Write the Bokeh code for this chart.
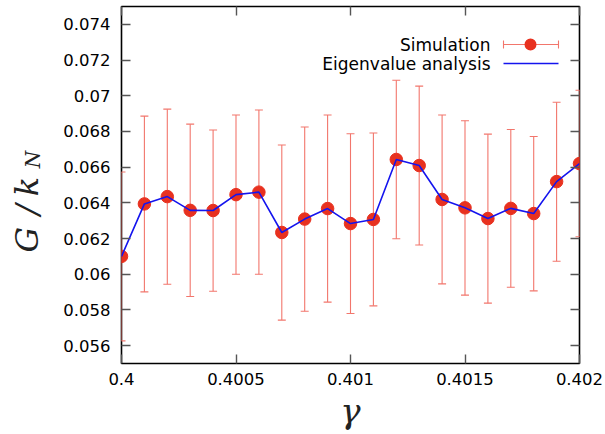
from bokeh.plotting import figure
from bokeh.layouts import row
from bokeh.models import (ColumnDataSource, FixedTicker, LinearAxis, Label, Arrow,
                          TeeHead, BoxAnnotation, Range1d)
from bokeh.embed import file_html
from bokeh.resources import INLINE

# ---------------- data ----------------
gamma = [0.4000, 0.4001, 0.4002, 0.4003, 0.4004, 0.4005, 0.4006, 0.4007, 0.4008, 0.4009,
         0.4010, 0.4011, 0.4012, 0.4013, 0.4014, 0.4015, 0.4016, 0.4017, 0.4018, 0.4019, 0.4020]
sim_mean = [0.06100, 0.06394, 0.06435, 0.06358, 0.06357, 0.06446, 0.06460, 0.06234, 0.06309, 0.06368,
            0.06284, 0.06307, 0.06643, 0.06609, 0.06419, 0.06372, 0.06312, 0.06369, 0.06340, 0.06519, 0.06620]
sim_upper = [0.06573, 0.06886, 0.06925, 0.06841, 0.06808, 0.06892, 0.06920, 0.06724, 0.06825, 0.06892,
             0.06787, 0.06791, 0.07087, 0.07054, 0.06892, 0.06860, 0.06785, 0.06811, 0.06772, 0.06964, 0.07031]
sim_lower = [0.05627, 0.05901, 0.05944, 0.05875, 0.05905, 0.06000, 0.06000, 0.05743, 0.05793, 0.05844,
             0.05780, 0.05823, 0.06199, 0.06164, 0.05946, 0.05883, 0.05838, 0.05927, 0.05907, 0.06073, 0.06210]
eig_value = [0.06100, 0.06394, 0.06435, 0.06358, 0.06357, 0.06446, 0.06460, 0.06234, 0.06309, 0.06368,
             0.06284, 0.06307, 0.06643, 0.06609, 0.06419, 0.06372, 0.06312, 0.06369, 0.06340, 0.06519, 0.06620]

xtick_values = [0.4, 0.4005, 0.401, 0.4015, 0.402]
xtick_labels = ["0.4", "0.4005", "0.401", "0.4015", "0.402"]
ytick_values = [0.056, 0.058, 0.06, 0.062, 0.064, 0.066, 0.068, 0.07, 0.072, 0.074]
ytick_labels = ["0.056", "0.058", "0.06", "0.062", "0.064", "0.066", "0.068", "0.07", "0.072", "0.074"]

x_min, x_max = 0.4, 0.402
y_min, y_max = 0.055, 0.075

# ---------------- style ----------------
W, H = 605, 434
LW = 60                       # width of the side strip holding the y-axis title
ML, MR, MT, MB = 119, 26, 6, 71
FRAME_W = W - ML - MR
ERR_COLOR = "#f2766c"
DOT_COLOR = "#e8311f"
LINE_COLOR = "#1414ee"
TICK_FONT = "DejaVu Sans"
MATH_FONT = "DejaVu Serif"

p = figure(width=W - LW, height=H, x_range=Range1d(x_min, x_max), y_range=Range1d(y_min, y_max),
           output_backend="svg", toolbar_location=None,
           min_border_left=ML - LW, min_border_right=MR, min_border_top=MT, min_border_bottom=MB,
           x_axis_label="γ")
p.grid.visible = False
p.outline_line_color = "black"
p.outline_line_width = 1.6
p.background_fill_color = "white"
p.border_fill_color = "white"

# error bars
cap_half = 4.0 * (x_max - x_min) / FRAME_W
src = ColumnDataSource(dict(
    x=gamma, mean=sim_mean, up=sim_upper, lo=sim_lower, eig=eig_value,
    xl=[g - cap_half for g in gamma], xr=[g + cap_half for g in gamma]))
p.segment(x0="x", y0="lo", x1="x", y1="up", source=src, line_color=ERR_COLOR, line_width=1.1)
p.segment(x0="xl", y0="up", x1="xr", y1="up", source=src, line_color=ERR_COLOR, line_width=1.1)
p.segment(x0="xl", y0="lo", x1="xr", y1="lo", source=src, line_color=ERR_COLOR, line_width=1.1)
p.scatter(x="x", y="mean", source=src, size=12.5, fill_color=DOT_COLOR, line_color=DOT_COLOR)
p.line(x="x", y="eig", source=src, line_color=LINE_COLOR, line_width=1.6)

# axes
def style_axis(ax, ticks, labels, show_labels):
    ax.ticker = FixedTicker(ticks=ticks)
    ax.major_label_overrides = {t: l for t, l in zip(ticks, labels)}
    ax.major_tick_in = 9
    ax.major_tick_out = 0
    ax.minor_tick_line_color = None
    ax.axis_line_color = None
    ax.major_tick_line_color = "#555555"
    ax.major_tick_line_width = 1.4
    if show_labels:
        ax.major_label_text_font = TICK_FONT
        ax.major_label_text_font_size = "16.5px"
        ax.major_label_text_color = "black"
    else:
        ax.major_label_text_font_size = "0px"
        ax.major_label_standoff = 0

style_axis(p.xaxis[0], xtick_values, xtick_labels, True)
style_axis(p.yaxis[0], ytick_values, ytick_labels, True)
p.xaxis[0].major_label_standoff = 9
p.yaxis[0].major_label_standoff = 11
p.xaxis[0].axis_label_text_font = MATH_FONT
p.xaxis[0].axis_label_text_font_style = "italic"
p.xaxis[0].axis_label_text_font_size = "34px"
p.xaxis[0].axis_label_text_color = "#222222"
p.xaxis[0].axis_label_standoff = 3

top_ax = LinearAxis()
right_ax = LinearAxis()
style_axis(top_ax, xtick_values, ["" for _ in xtick_labels], False)
style_axis(right_ax, ytick_values, ["" for _ in ytick_labels], False)
p.add_layout(top_ax, "above")
p.add_layout(right_ax, "right")

# legend (text left, sample right), frame-relative screen units
fy0 = H - MB
leg_right = 488 - ML
row1 = fy0 - 44
row2 = fy0 - 63
for txt, yy in (("Simulation", row1), ("Eigenvalue analysis", row2)):
    p.add_layout(Label(x=leg_right, y=yy, x_units="screen", y_units="screen", text=txt,
                       text_align="right", text_baseline="middle", text_font=TICK_FONT,
                       text_font_size="17px", text_color="black"))
s0, s1 = 501 - ML, 556 - ML
p.add_layout(Arrow(x_start=s0, y_start=row1, x_end=s1, y_end=row1,
                   start_units="screen", end_units="screen",
                   start=TeeHead(size=8, line_color=ERR_COLOR, line_width=1.1),
                   end=TeeHead(size=8, line_color=ERR_COLOR, line_width=1.1),
                   line_color=ERR_COLOR, line_width=1.1))
r = 6
cx = 528 - ML
p.add_layout(BoxAnnotation(left=cx - r, right=cx + r, bottom=row1 - r, top=row1 + r,
                           left_units="screen", right_units="screen",
                           top_units="screen", bottom_units="screen",
                           border_radius=r, fill_color=DOT_COLOR, fill_alpha=1.0,
                           line_color=None))
p.add_layout(Arrow(x_start=s0, y_start=row2, x_end=s1, y_end=row2,
                   start_units="screen", end_units="screen", end=None,
                   line_color=LINE_COLOR, line_width=1.6))

# side strip with the y-axis title  G/k_N  (its frame is aligned with the main frame)
side = figure(width=LW, height=H, x_range=Range1d(0, 1), y_range=Range1d(0, 1),
              x_axis_location=None, y_axis_location=None, toolbar_location=None,
              output_backend="svg", min_border=0)
side.outline_line_color = None
side.grid.visible = False
side.background_fill_color = "white"
side.border_fill_color = "white"

def ylab(text, x, y, size, align):
    side.add_layout(Label(x=x, y=fy0 - y, x_units="screen", y_units="screen", text=text,
                          angle=90, angle_units="deg", text_align=align,
                          text_baseline="alphabetic", text_font=MATH_FONT,
                          text_font_style="italic", text_font_size=size, text_color="#222222"))

ylab("G", 26, 252, "32px", "left")
ylab("/", 26, 209, "32px", "center")
ylab("k", 26, 186, "32px", "center")
ylab("N", 32, 159, "20px", "center")

layout = row(side, p, spacing=0)
open("out.html", "w").write(file_html(layout, INLINE))
